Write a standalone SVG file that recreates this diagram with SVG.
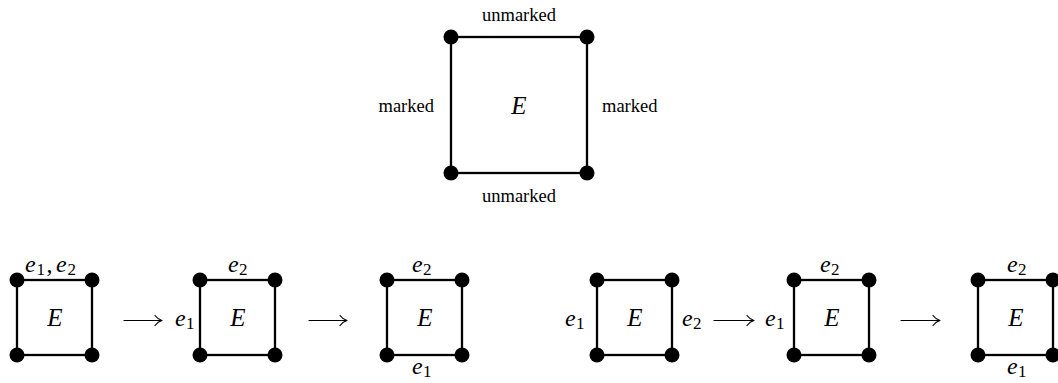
<svg xmlns="http://www.w3.org/2000/svg" width="1058" height="383" viewBox="0 0 1058 383">
<style>
.sq{fill:none;stroke:#000;stroke-width:2.3}
.dot{fill:#000}
.lbl{font-family:"Liberation Serif",serif;font-size:18.5px;fill:#000}
.m{font-family:"Liberation Serif",serif;font-style:italic;font-size:24px;fill:#000}
.big{font-size:25px}
.sub{font-style:normal;font-size:17px}
.arr{fill:none;stroke:#000;stroke-width:1.2;stroke-linecap:round}
</style>
<defs>
<g id="sqS">
<rect class="sq" x="0" y="0" width="75" height="75"/>
<circle class="dot" cx="0" cy="0" r="7.5"/><circle class="dot" cx="75" cy="0" r="7.5"/>
<circle class="dot" cx="0" cy="75" r="7.5"/><circle class="dot" cx="75" cy="75" r="7.5"/>
</g>
</defs>
<g id="main">
<rect class="sq" x="451" y="37" width="136" height="136"/>
<circle class="dot" cx="451" cy="37" r="7.5"/><circle class="dot" cx="587" cy="37" r="7.5"/>
<circle class="dot" cx="451" cy="173" r="7.5"/><circle class="dot" cx="587" cy="173" r="7.5"/>
<text class="m big" x="519" y="114" text-anchor="middle">E</text>
<text class="lbl" x="519" y="21" text-anchor="middle">unmarked</text>
<text class="lbl" x="434" y="112" text-anchor="end">marked</text>
<text class="lbl" x="602" y="112">marked</text>
<text class="lbl" x="519" y="202" text-anchor="middle">unmarked</text>
</g>
<g id="s1">
<use href="#sqS" x="17" y="280"/>
<text class="m big" x="55" y="326" text-anchor="middle">E</text>
<text class="m" y="272"><tspan x="25">e</tspan><tspan class="sub" x="36.5" dy="3">1</tspan><tspan x="46.5" dy="-3" style="font-style:normal">,</tspan><tspan x="56">e</tspan><tspan class="sub" x="67.5" dy="3">2</tspan></text>
</g>
<g id="s2">
<use href="#sqS" x="200" y="280"/>
<text class="m big" x="238" y="326" text-anchor="middle">E</text>
<text class="m" y="326"><tspan x="175">e</tspan><tspan class="sub" x="186" dy="3">1</tspan></text>
<text class="m" y="272"><tspan x="228">e</tspan><tspan class="sub" x="239" dy="3">2</tspan></text>
</g>
<g id="s3">
<use href="#sqS" x="387" y="280"/>
<text class="m big" x="425" y="326" text-anchor="middle">E</text>
<text class="m" y="272"><tspan x="412">e</tspan><tspan class="sub" x="423" dy="3">2</tspan></text>
<text class="m" y="374"><tspan x="412">e</tspan><tspan class="sub" x="423" dy="3">1</tspan></text>
</g>
<g id="s4">
<use href="#sqS" x="597" y="280"/>
<text class="m big" x="635" y="326" text-anchor="middle">E</text>
<text class="m" y="326"><tspan x="565">e</tspan><tspan class="sub" x="576" dy="3">1</tspan></text>
<text class="m" y="326"><tspan x="682">e</tspan><tspan class="sub" x="693" dy="3">2</tspan></text>
</g>
<g id="s5">
<use href="#sqS" x="794" y="280"/>
<text class="m big" x="832" y="326" text-anchor="middle">E</text>
<text class="m" y="326"><tspan x="765">e</tspan><tspan class="sub" x="776" dy="3">1</tspan></text>
<text class="m" y="272"><tspan x="820">e</tspan><tspan class="sub" x="831" dy="3">2</tspan></text>
</g>
<g id="s6">
<use href="#sqS" x="978" y="280"/>
<text class="m big" x="1016" y="326" text-anchor="middle">E</text>
<text class="m" y="272"><tspan x="1007">e</tspan><tspan class="sub" x="1018" dy="3">2</tspan></text>
<text class="m" y="374"><tspan x="1007">e</tspan><tspan class="sub" x="1018" dy="3">1</tspan></text>
</g>
<g id="connectors">
<path class="arr" d="M124 320.5H162M155 315.5Q158 319.5 162 320.5Q158 321.5 155 325.5"/>
<path class="arr" d="M309 320.5H347M340 315.5Q343 319.5 347 320.5Q343 321.5 340 325.5"/>
<path class="arr" d="M714 320.5H754M747 315.5Q750 319.5 754 320.5Q750 321.5 747 325.5"/>
<path class="arr" d="M901 320.5H940M933 315.5Q936 319.5 940 320.5Q936 321.5 933 325.5"/>
</g>
</svg>
